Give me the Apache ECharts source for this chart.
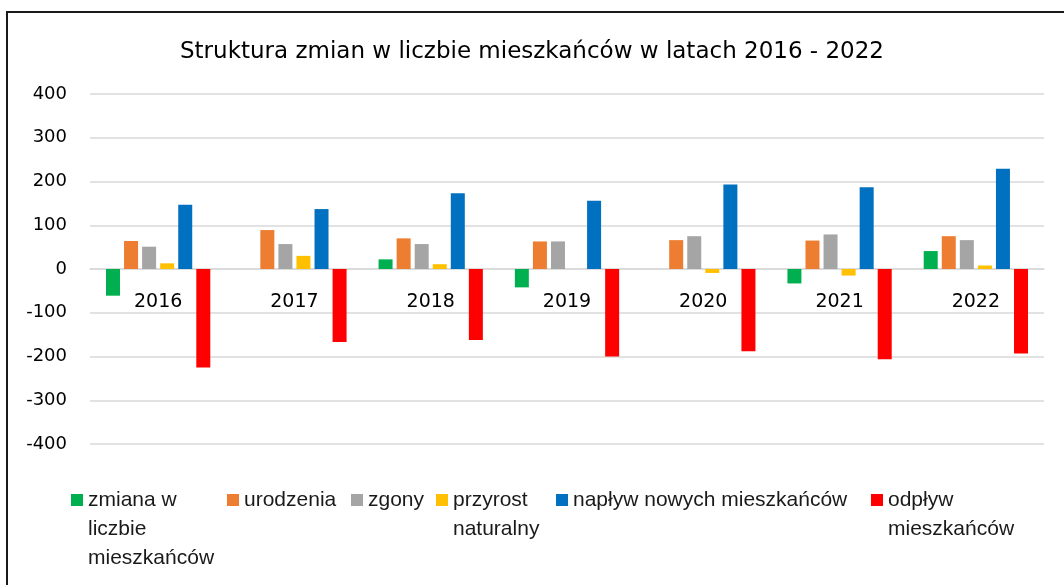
<!DOCTYPE html>
<html>
<head>
<meta charset="utf-8">
<script src="https://cdn.jsdelivr.net/npm/echarts@6/dist/echarts.min.js"></script>
<style>
	html, body { margin: 0; padding: 0; background: #fff; }
	#main { width: 1064px; height: 585px; }
</style>
</head>
<body>
<div id="main"></div>
<script>
	// dane
	var years = ['2016', '2017', '2018', '2019', '2020', '2021', '2022'];
	var zmiana = [-61, 0, 22, -42, 0, -33, 41];
	var urodzenia = [64, 89, 70, 63, 66, 65, 75];
	var zgony = [51, 57, 57, 63, 75, 79, 66];
	var przyrost = [13, 30, 11, 0, -9, -15, 8];
	var naplyw = [147, 137, 173, 156, 193, 187, 229];
	var odplyw = [-225, -167, -162, -200, -188, -206, -193];
	var yTicks = [-400, -300, -200, -100, 0, 100, 200, 300, 400];

	var names = ['zmiana w\nliczbie\nmieszkańców', 'urodzenia', 'zgony', 'przyrost\nnaturalny', 'napływ nowych mieszkańców', 'odpływ\nmieszkańców'];
	var values = [zmiana, urodzenia, zgony, przyrost, naplyw, odplyw];
	var colors = ['#00b050', '#ed7d31', '#a5a5a5', '#ffc000', '#0070c0', '#ff0000'];
	var legendLeft = [71, 227, 351, 436, 556, 871]; // pozycje legendy

	var myChart = echarts.init(document.getElementById('main'));

	var lineH = 29;
	var iconMid = 500; // środek znaczników legendy
	var legends = names.map(function (n, i) {
		var lines = n.split('\n').length;
		var pad = new Array(lines).join('\n'); // puste linie nad tekstem, żeby 1. linia była przy znaczniku
		return {
			left: legendLeft[i],
			top: iconMid - (2 * lines - 1) * lineH / 2,
			padding: 0,
			itemWidth: 12,
			itemHeight: 12,
			icon: 'rect',
			selectedMode: false,
			data: [n],
			formatter: function (name) {
				return pad + name;
			},
			textStyle: {
				fontFamily: 'Liberation Sans',
				fontSize: 21,
				color: '#1a1a1a',
				lineHeight: lineH
			}
		};
	});

	var option = {
		animation: false,
		title: {
			text: 'Struktura zmian w liczbie mieszkańców w latach 2016 - 2022',
			left: 'center',
			top: 41,
			padding: 0,
			textStyle: {
				fontFamily: 'DejaVu Sans',
				fontSize: 23,
				fontWeight: 'normal',
				color: '#000'
			}
		},
		graphic: [{
			type: 'rect',
			shape: { x: 7, y: 12, width: 1200, height: 700 },
			style: { fill: 'none', stroke: '#1a1a1a', lineWidth: 2 },
			silent: true
		}],
		legend: legends,
		grid: {
			left: 90,
			right: 20,
			top: 94,
			bottom: 141
		},
		xAxis: {
			type: 'category',
			data: years,
			offset: -175, // oś na wysokości zera
			axisLine: {
				show: true,
				onZero: false,
				lineStyle: { color: '#d9d9d9', width: 1.5 }
			},
			axisTick: { show: false },
			axisLabel: {
				margin: 24,
				fontFamily: 'DejaVu Sans',
				fontSize: 19,
				color: '#000'
			}
		},
		yAxis: {
			type: 'value',
			min: yTicks[0],
			max: yTicks[yTicks.length - 1],
			interval: 100,
			axisLine: { show: false },
			axisTick: { show: false },
			axisLabel: {
				margin: 23,
				fontFamily: 'DejaVu Sans',
				fontSize: 18,
				color: '#000'
			},
			splitLine: {
				show: true,
				lineStyle: { color: '#d9d9d9', width: 1.5 }
			}
		},
		series: names.map(function (n, i) {
			return {
				name: n,
				type: 'bar',
				barWidth: 14,
				barGap: '29%',
				data: values[i],
				itemStyle: { color: colors[i] }
			};
		})
	};

	myChart.setOption(option);
</script>
</body>
</html>
